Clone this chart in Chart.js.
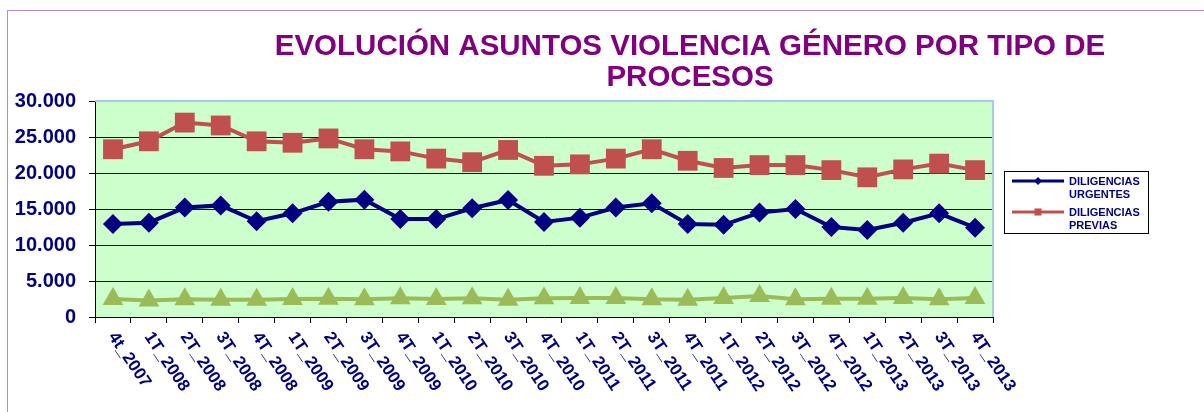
<!DOCTYPE html>
<html>
<head>
<meta charset="utf-8">
<script src="https://cdn.jsdelivr.net/npm/chart.js@4"></script>
<style>
  html, body { margin: 0; padding: 0; background: #fff; }
  #wrap { position: relative; width: 1204px; height: 412px; overflow: hidden; }
  #marco { position: absolute; left: 7px; top: 10px; width: 1400px; height: 600px;
           border-top: 1px solid #B98BC9; border-left: 1px solid #B98BC9; }
  canvas { position: absolute; left: 0; top: 0; }
</style>
</head>
<body>
<div id="wrap">
  <div id="marco"></div>
  <canvas id="grafico" width="1204" height="412"></canvas>
</div>
<script>
// --- datos ---
const trimestres = ['4t_2007',
  '1T_2008', '2T_2008', '3T_2008', '4T_2008',
  '1T_2009', '2T_2009', '3T_2009', '4T_2009',
  '1T_2010', '2T_2010', '3T_2010', '4T_2010',
  '1T_2011', '2T_2011', '3T_2011', '4T_2011',
  '1T_2012', '2T_2012', '3T_2012', '4T_2012',
  '1T_2013', '2T_2013', '3T_2013', '4T_2013'];

const diligenciasUrgentes = [12900, 13100, 15200, 15500, 13300, 14400, 16000, 16300, 13600, 13600,
  15100, 16250, 13200, 13800, 15200, 15800, 12900, 12800, 14500, 15000, 12500, 12100, 13100, 14400, 12400];

const diligenciasPrevias = [23300, 24400, 27000, 26600, 24400, 24200, 24800, 23300, 23000, 22000,
  21500, 23200, 21000, 21200, 22000, 23300, 21700, 20700, 21100, 21100, 20400, 19400, 20500, 21300, 20400];

// tercera serie (sin entrada en la leyenda)
const otrosProcesos = [2500, 2300, 2450, 2400, 2400, 2500, 2550, 2450, 2600, 2500, 2600, 2400, 2600,
  2650, 2650, 2450, 2400, 2650, 2900, 2450, 2550, 2550, 2650, 2450, 2650];

const etiquetasEjeY = ['0', '5.000', '10.000', '15.000', '20.000', '25.000', '30.000'];
const tituloLineas = ['EVOLUCIÓN ASUNTOS VIOLENCIA GÉNERO POR TIPO DE', 'PROCESOS'];
const leyendaTextos = [['DILIGENCIAS', 'URGENTES'], ['DILIGENCIAS', 'PREVIAS']];

const FUENTE = "'Liberation Sans', Arial, sans-serif";
const AZUL = '#000080';
const ROJO = '#C0504D';
const VERDE = '#9BBB59';

// fondo verde del área de trazado + borde azul claro arriba y a la derecha
const fondoPlot = {
  id: 'fondoPlot',
  beforeDraw(chart) {
    const { ctx, chartArea: a } = chart;
    ctx.save();
    ctx.fillStyle = '#CCFFCC';
    ctx.fillRect(a.left, a.top, a.right - a.left, a.bottom - a.top);
    ctx.restore();
  },
  beforeDatasetsDraw(chart) {
    const { ctx, chartArea: a } = chart;
    ctx.save();
    ctx.strokeStyle = '#A6CAF0';
    ctx.lineWidth = 2;
    ctx.beginPath();
    ctx.moveTo(a.left, a.top);
    ctx.lineTo(a.right, a.top);
    ctx.lineTo(a.right, a.bottom);
    ctx.stroke();
    ctx.restore();
  }
};

// etiquetas del eje X giradas hacia abajo a la derecha
const etiquetasX = {
  id: 'etiquetasX',
  afterDraw(chart) {
    const { ctx } = chart;
    const x = chart.scales.x;
    ctx.save();
    ctx.font = 'bold 17px ' + FUENTE;
    ctx.fillStyle = AZUL;
    ctx.textAlign = 'left';
    ctx.textBaseline = 'middle';
    trimestres.forEach((t, i) => {
      ctx.save();
      ctx.translate(x.getPixelForValue(i) - 1, x.top + 17);
      ctx.rotate(56 * Math.PI / 180);
      ctx.fillText(t, 0, 0);
      ctx.restore();
    });
    ctx.restore();
  }
};

const titulo = {
  id: 'titulo',
  afterDraw(chart) {
    const { ctx } = chart;
    ctx.save();
    ctx.font = 'bold 29.5px ' + FUENTE;
    ctx.fillStyle = '#800080';
    ctx.textAlign = 'center';
    ctx.textBaseline = 'alphabetic';
    ctx.fillText(tituloLineas[0], 690, 55);
    ctx.fillText(tituloLineas[1], 690, 86);
    ctx.restore();
  }
};

const leyenda = {
  id: 'leyenda',
  afterDraw(chart) {
    const { ctx } = chart;
    const series = [chart.data.datasets[0], chart.data.datasets[1]];
    ctx.save();
    ctx.fillStyle = '#fff';
    ctx.fillRect(1004, 171, 144, 62);
    ctx.strokeStyle = '#000';
    ctx.lineWidth = 1;
    ctx.strokeRect(1004.5, 171.5, 144, 62);
    series.forEach((ds, i) => {
      const y = 181 + i * 31;
      ctx.strokeStyle = ds.borderColor;
      ctx.lineWidth = 3;
      ctx.beginPath();
      ctx.moveTo(1012, y);
      ctx.lineTo(1064, y);
      ctx.stroke();
      ctx.fillStyle = ds.borderColor;
      Chart.helpers.drawPoint(ctx, {
        pointStyle: ds.pointStyle, radius: i === 0 ? 4 : 5, rotation: 0, borderWidth: 0
      }, 1038, y);
      ctx.fillStyle = AZUL;
      ctx.font = 'bold 11px ' + FUENTE;
      ctx.textAlign = 'left';
      ctx.textBaseline = 'alphabetic';
      ctx.fillText(leyendaTextos[i][0], 1069, y + 4);
      ctx.fillText(leyendaTextos[i][1], 1069, y + 17);
    });
    ctx.restore();
  }
};

new Chart(document.getElementById('grafico'), {
  type: 'line',
  data: {
    labels: trimestres,
    datasets: [
      {
        label: 'DILIGENCIAS URGENTES',
        data: diligenciasUrgentes,
        borderColor: AZUL,
        backgroundColor: AZUL,
        borderWidth: 4,
        pointStyle: 'rectRot',
        pointRadius: 10,
        pointBorderWidth: 0,
        tension: 0
      },
      {
        label: 'DILIGENCIAS PREVIAS',
        data: diligenciasPrevias,
        borderColor: ROJO,
        backgroundColor: ROJO,
        borderWidth: 4,
        pointStyle: 'rect',
        pointRadius: 14,
        pointBorderWidth: 0,
        tension: 0
      },
      {
        label: '',
        data: otrosProcesos,
        borderColor: VERDE,
        backgroundColor: VERDE,
        borderWidth: 4,
        pointStyle: 'triangle',
        pointRadius: 12,
        pointBorderWidth: 0,
        tension: 0
      }
    ]
  },
  options: {
    responsive: false,
    animation: false,
    devicePixelRatio: 1,
    clip: false,
    layout: { padding: { left: 0, top: 101, right: 211, bottom: 0 } },
    plugins: {
      legend: { display: false },
      title: { display: false },
      tooltip: { enabled: false }
    },
    scales: {
      x: {
        offset: true,
        grid: {
          offset: true,
          drawOnChartArea: false,
          drawTicks: true,
          tickLength: 6,
          tickColor: '#000'
        },
        border: { color: '#000', width: 1 },
        ticks: { display: false },
        afterFit(scale) { scale.height = 95; }
      },
      y: {
        min: 0,
        max: 30000,
        ticks: {
          stepSize: 5000,
          padding: 13,
          color: AZUL,
          font: { family: FUENTE, size: 20, weight: 'bold' },
          callback: (v, i) => etiquetasEjeY[i]
        },
        grid: {
          color: (c) => (c.tick && (c.tick.value === 0 || c.tick.value === 30000)) ? 'rgba(0,0,0,0)' : '#111',
          borderDash: [1, 1],
          lineWidth: 1,
          drawTicks: true,
          tickLength: 6,
          tickColor: '#000',
          tickBorderDash: []
        },
        border: { color: '#000', width: 1 },
        afterFit(scale) { scale.width = 95; }
      }
    }
  },
  plugins: [fondoPlot, etiquetasX, titulo, leyenda]
});
</script>
</body>
</html>
